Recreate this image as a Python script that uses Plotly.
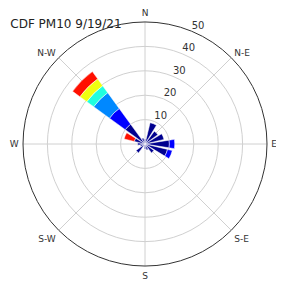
import plotly.graph_objects as go

title = "CDF PM10 9/19/21"
directions = [0, 22.5, 45, 67.5, 90, 112.5, 135, 157.5, 180, 202.5, 225, 247.5, 270, 292.5, 315, 337.5]
bin_navy = [2, 9, 6.5, 8, 10, 9.5, 4.5, 2.5, 2, 1, 4.5, 2, 3, 4.5, 10, 2.5]
bin_blue = [0, 0, 0, 0, 2.2, 2, 0, 0, 0, 0, 0, 0, 0, 0, 8, 0]
bin_azure = [0, 0, 0, 0, 0, 0, 0, 0, 0, 0, 0, 0, 0, 0, 8, 0]
bin_cyan = [0, 0, 0, 0, 0, 0, 0, 0, 0, 0, 0, 0, 0, 0, 3.5, 0]
bin_yellow = [0, 0, 0, 0, 0, 0, 0, 0, 0, 0, 0, 0, 0, 0, 3.5, 0]
bin_red = [0, 0, 0, 0, 0, 0, 0, 0, 0, 0, 0, 0, 0, 4.3, 3.7, 0]
bin_colors = ["#00008f", "#0000ff", "#0088ff", "#20ffdf", "#efff10", "#ff1000"]
compass_vals = [0, 45, 90, 135, 180, 225, 270, 315]
compass_text = ["N", "N-E", "E", "S-E", "S", "S-W", "W", "N-W"]
radial_ticks = [10, 20, 30, 40, 50]

fig = go.Figure()
for vals, col in zip([bin_navy, bin_blue, bin_azure, bin_cyan, bin_yellow, bin_red], bin_colors):
    fig.add_trace(go.Barpolar(r=vals, theta=directions, width=18,
                              marker=dict(color=col, line=dict(color="white", width=0.5)),
                              showlegend=False))

fig.add_trace(go.Scatterpolar(r=radial_ticks, theta=[22.5] * len(radial_ticks), mode="text",
                              text=[str(v) for v in radial_ticks], textposition="top right",
                              textfont=dict(family="DejaVu Sans", size=10, color="#333333"),
                              showlegend=False, cliponaxis=False, hoverinfo="skip"))

fig.update_layout(
    width=284, height=283,
    margin=dict(l=15, r=25, t=14, b=25),
    paper_bgcolor="white",
    showlegend=False,
    polar=dict(
        bgcolor="white",
        barmode="stack",
        domain=dict(x=[0, 1], y=[0, 1]),
        radialaxis=dict(range=[0, 50], tickvals=radial_ticks, showticklabels=False,
                        showline=False, ticks="", gridcolor="#d0d0d0", gridwidth=1, angle=67.5),
        angularaxis=dict(rotation=90, direction="clockwise", tickvals=compass_vals,
                         ticktext=compass_text, ticks="outside", ticklen=2,
                         tickcolor="rgba(0,0,0,0)", showline=True, linecolor="#333333",
                         linewidth=1, gridcolor="#d0d0d0", gridwidth=1,
                         tickfont=dict(family="DejaVu Sans", size=9, color="#333333")),
    ),
    title=dict(text=title, x=0.008, xanchor="left", y=0.945, yanchor="middle",
               font=dict(family="DejaVu Sans", size=12, color="#222222")),
)

fig.write_html("out.html")
